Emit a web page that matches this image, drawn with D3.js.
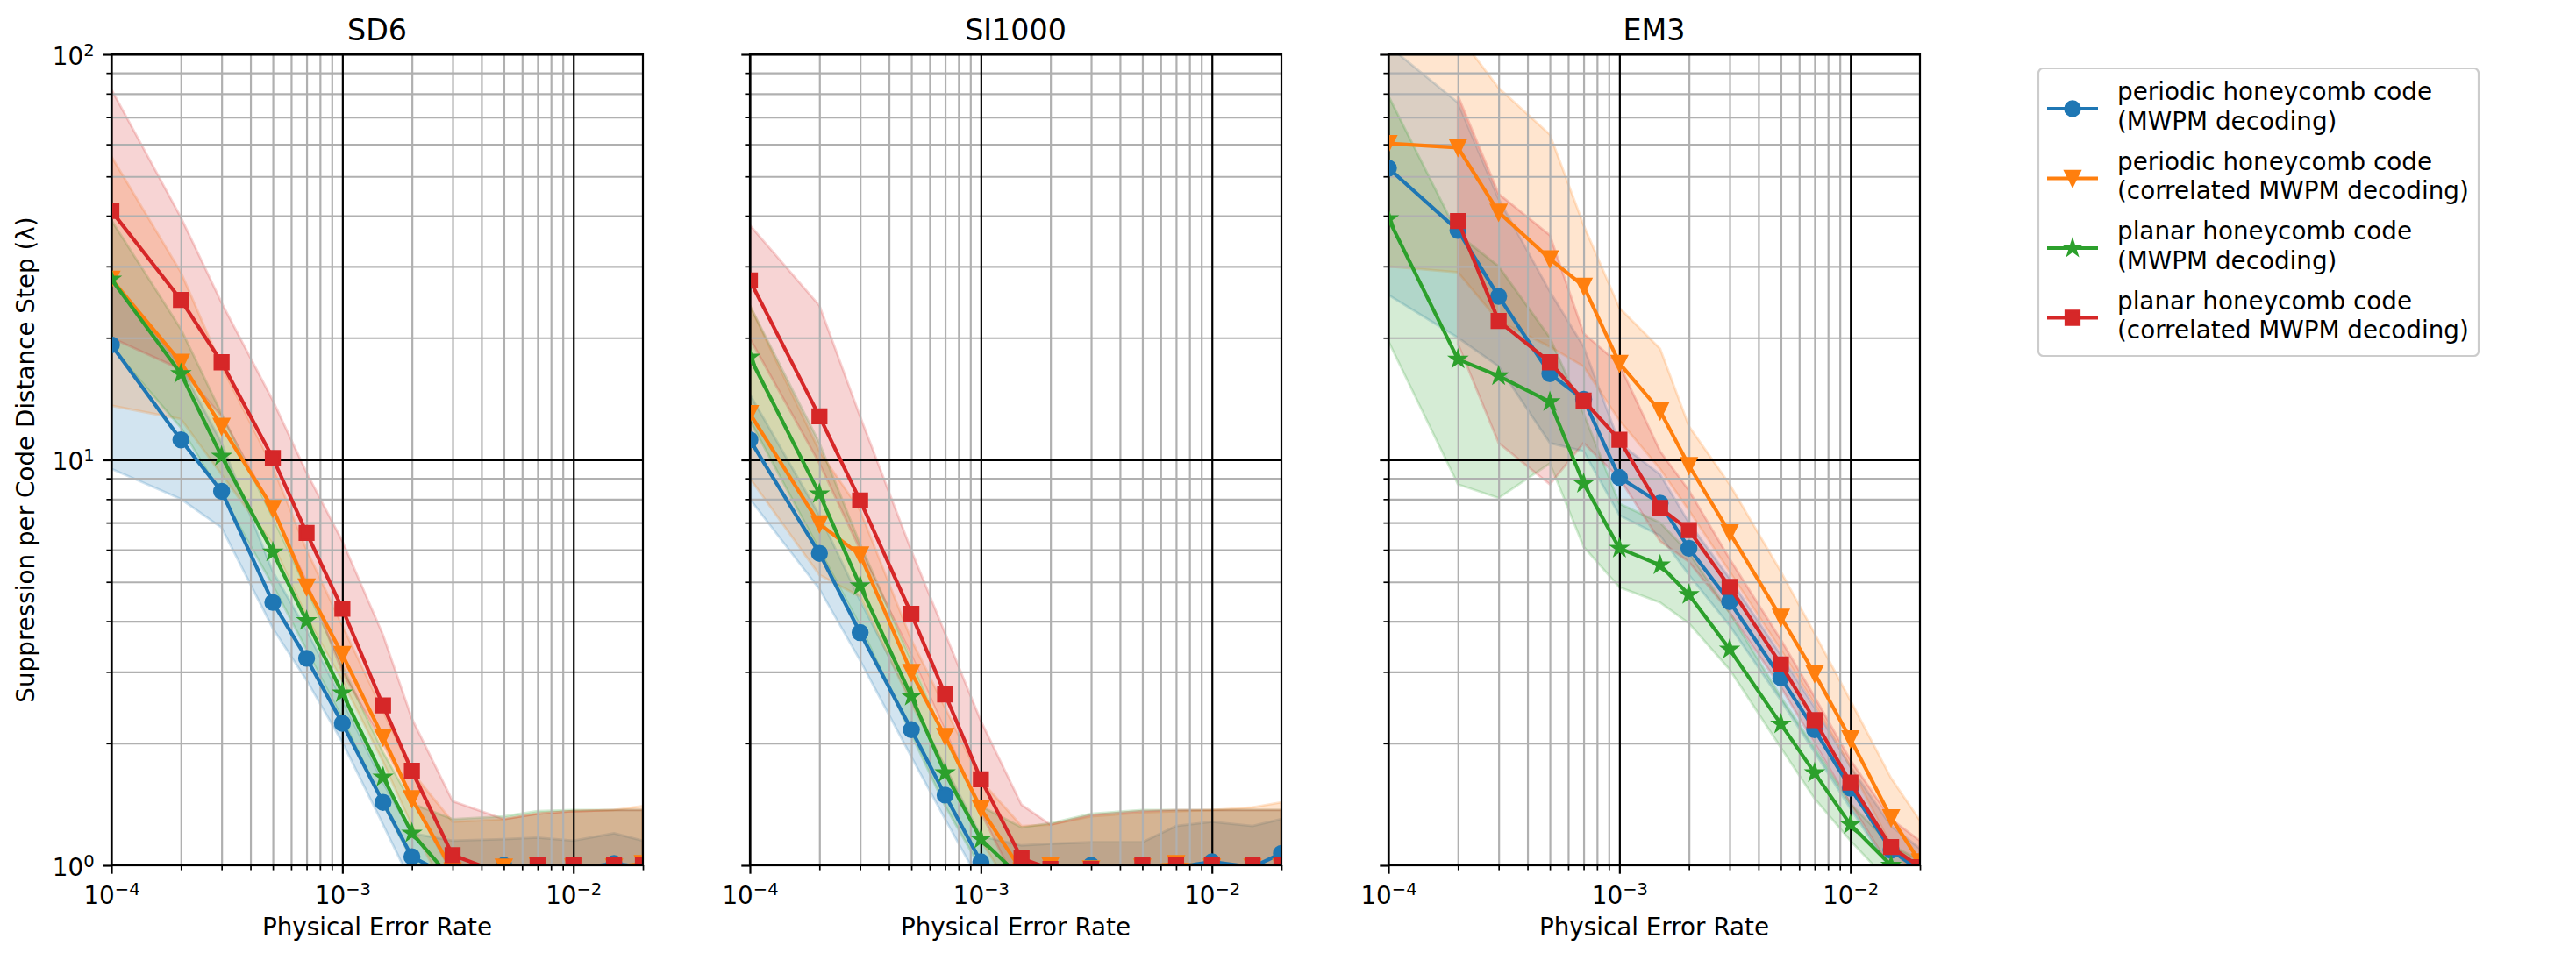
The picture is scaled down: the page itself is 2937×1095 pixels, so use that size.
<!DOCTYPE html>
<html>
<head>
<meta charset="utf-8">
<script src="https://cdn.jsdelivr.net/npm/d3@7"></script>
<style>
  body { margin: 0; background: #fff; }
  text { font-family: "DejaVu Sans", sans-serif; fill: #000; }
</style>
</head>
<body>
<svg id="chart" width="2937" height="1095"></svg>
<script>
// physical error rates, same for every panel
var rates = [1e-4, 2e-4, 3e-4, 5e-4, 7e-4, 1e-3, 1.5e-3, 2e-3, 3e-3, 5e-3, 7e-3, 1e-2, 1.5e-2, 2e-2];

var panelNames = ["SD6", "SI1000", "EM3"];
var seriesNames = [
  ["periodic honeycomb code", "(MWPM decoding)"],
  ["periodic honeycomb code", "(correlated MWPM decoding)"],
  ["planar honeycomb code", "(MWPM decoding)"],
  ["planar honeycomb code", "(correlated MWPM decoding)"]
];
var xMajorTicks = [1e-4, 1e-3, 1e-2];
var xTickExp = ["\u22124", "\u22123", "\u22122"];
var yMajorTicks = [1, 10, 100];
var yTickExp = ["0", "1", "2"];

// SD6
var sd6PerMwpm   = [19.2, 11.2, 8.36, 4.45, 3.24, 2.24, 1.43, 1.05, 0.93, 1.0, 0.98, 0.98, 1.01, 0.99];
var sd6PerMwpmLo = [9.5, 8.0, 6.8, 3.84, 2.86, 2.01, 1.26, 0.9, 0.8, 0.75, 0.75, 0.75, 0.75, 0.75];
var sd6PerMwpmHi = [28, 17, 11, 5.3, 3.8, 2.55, 1.6, 1.2, 1.15, 1.16, 1.17, 1.15, 1.2, 1.15];
var sd6PerCorr   = [27.9, 17.4, 12.1, 7.59, 4.86, 3.31, 2.07, 1.46, 0.97, 0.99, 1.0, 0.99, 0.99, 1.01];
var sd6PerCorrLo = [13.6, 12.6, 9.2, 6.2, 4.1, 2.85, 1.8, 1.25, 0.8, 0.75, 0.75, 0.78, 0.8, 0.82];
var sd6PerCorrHi = [56, 29, 17, 9.6, 6.0, 3.9, 2.4, 1.7, 1.28, 1.3, 1.34, 1.36, 1.37, 1.4];
var sd6PlnMwpm   = [27.9, 16.3, 10.2, 5.92, 4.01, 2.66, 1.65, 1.20, 0.92, 0.9, 0.9, 0.9, 0.9, 0.9];
var sd6PlnMwpmLo = [19, 12, 8.2, 4.9, 3.4, 2.3, 1.42, 1.03, 0.78, 0.7, 0.7, 0.7, 0.7, 0.7];
var sd6PlnMwpmHi = [39, 21, 13, 7.2, 4.8, 3.1, 1.9, 1.42, 1.3, 1.32, 1.36, 1.37, 1.37, 1.37];
var sd6PlnCorr   = [41.1, 24.8, 17.4, 10.1, 6.6, 4.29, 2.48, 1.71, 1.06, 0.95, 1.0, 1.0, 1.0, 1.0];
var sd6PlnCorrLo = [20, 16.7, 12.8, 7.5, 5.0, 3.0, 2.0, 1.46, 0.95, 0.8, 0.8, 0.8, 0.8, 0.8];
var sd6PlnCorrHi = [82, 39.6, 24.4, 14.0, 9.3, 6.3, 3.7, 2.3, 1.44, 1.3, 1.34, 1.36, 1.37, 1.37];

// SI1000
var si1PerMwpm   = [11.2, 5.88, 3.75, 2.16, 1.49, 1.02, 0.93, 0.99, 1.0, 0.99, 0.99, 1.02, 0.99, 1.07];
var si1PerMwpmLo = [8.0, 4.8, 3.2, 1.85, 1.3, 0.9, 0.75, 0.75, 0.75, 0.75, 0.75, 0.75, 0.75, 0.75];
var si1PerMwpmHi = [14.5, 7.3, 4.5, 2.55, 1.75, 1.18, 1.12, 1.13, 1.14, 1.14, 1.25, 1.28, 1.25, 1.3];
var si1PerCorr   = [13.0, 6.95, 5.83, 2.99, 2.08, 1.38, 0.97, 1.0, 0.98, 0.99, 1.01, 0.99, 0.99, 0.99];
var si1PerCorrLo = [9.0, 5.2, 4.6, 2.5, 1.75, 1.15, 0.8, 0.78, 0.78, 0.78, 0.8, 0.8, 0.8, 0.8];
var si1PerCorrHi = [24, 10.5, 7.5, 3.6, 2.45, 1.62, 1.25, 1.26, 1.32, 1.35, 1.36, 1.37, 1.39, 1.43];
var si1PlnMwpm   = [17.9, 8.24, 4.89, 2.61, 1.69, 1.16, 0.93, 0.9, 0.9, 0.9, 0.9, 0.9, 0.9, 0.9];
var si1PlnMwpmLo = [12.5, 6.0, 3.9, 2.1, 1.4, 0.98, 0.75, 0.7, 0.7, 0.7, 0.7, 0.7, 0.7, 0.7];
var si1PlnMwpmHi = [24, 11, 6.2, 3.2, 2.05, 1.4, 1.24, 1.27, 1.34, 1.37, 1.37, 1.37, 1.37, 1.37];
var si1PlnCorr   = [27.7, 12.8, 7.94, 4.17, 2.64, 1.63, 1.04, 0.98, 0.98, 1.0, 1.0, 1.0, 1.0, 1.0];
var si1PlnCorrLo = [19.9, 9.8, 6.0, 3.3, 2.15, 1.35, 0.85, 0.8, 0.8, 0.8, 0.8, 0.8, 0.8, 0.8];
var si1PlnCorrHi = [37.9, 24, 12.8, 5.97, 3.73, 2.27, 1.41, 1.26, 1.33, 1.36, 1.37, 1.37, 1.37, 1.37];

// EM3
var em3PerMwpm   = [52.4, 36.8, 25.3, 16.3, 14.1, 9.05, 7.82, 6.05, 4.47, 2.90, 2.16, 1.55, 1.09, 0.97];
var em3PerMwpmLo = [25.5, 20, 17, 11, 10.5, 7.3, 6.5, 5.2, 3.9, 2.55, 1.9, 1.38, 0.97, 0.85];
var em3PerMwpmHi = [105, 76, 44, 26, 19, 11, 9.2, 7.0, 5.1, 3.3, 2.45, 1.75, 1.25, 1.1];
var em3PerCorr   = [60.3, 58.9, 40.8, 31.3, 26.8, 17.3, 13.2, 9.68, 6.61, 4.09, 2.97, 2.05, 1.31, 1.02];
var em3PerCorrLo = [30, 29, 22, 19, 17, 12.5, 9.5, 7.5, 5.3, 3.4, 2.5, 1.75, 1.12, 0.9];
var em3PerCorrHi = [115, 112, 82.6, 63.4, 37.9, 23.7, 18.8, 12.1, 8.7, 5.3, 3.73, 2.55, 1.64, 1.29];
var em3PlnMwpm   = [39.3, 17.7, 16.1, 13.9, 8.74, 6.05, 5.50, 4.65, 3.41, 2.23, 1.69, 1.26, 1.0, 0.92];
var em3PlnMwpmLo = [19.6, 8.7, 8.05, 9.8, 6.1, 4.85, 4.45, 3.95, 3.04, 1.95, 1.46, 1.15, 0.9, 0.8];
var em3PlnMwpmHi = [79, 36, 30, 20, 13, 7.8, 7.0, 5.9, 4.2, 2.6, 1.95, 1.42, 1.12, 1.03];
var em3PlnCorr   = [null, 38.8, 22.0, 17.4, 14.0, 11.2, 7.61, 6.71, 4.86, 3.13, 2.28, 1.60, 1.11, 0.99];
var em3PlnCorrLo = [null, 19.3, 11.0, 8.7, 11.0, 9.0, 6.3, 5.6, 4.2, 2.75, 2.0, 1.42, 0.98, 0.88];
var em3PlnCorrHi = [null, 79, 45.3, 35.8, 20.5, 17.2, 10.5, 8.4, 5.7, 3.6, 2.6, 1.82, 1.3, 1.15];

var panels = [
  {vals: [sd6PerMwpm, sd6PerCorr, sd6PlnMwpm, sd6PlnCorr],
   lo: [sd6PerMwpmLo, sd6PerCorrLo, sd6PlnMwpmLo, sd6PlnCorrLo],
   hi: [sd6PerMwpmHi, sd6PerCorrHi, sd6PlnMwpmHi, sd6PlnCorrHi]},
  {vals: [si1PerMwpm, si1PerCorr, si1PlnMwpm, si1PlnCorr],
   lo: [si1PerMwpmLo, si1PerCorrLo, si1PlnMwpmLo, si1PlnCorrLo],
   hi: [si1PerMwpmHi, si1PerCorrHi, si1PlnMwpmHi, si1PlnCorrHi]},
  {vals: [em3PerMwpm, em3PerCorr, em3PlnMwpm, em3PlnCorr],
   lo: [em3PerMwpmLo, em3PerCorrLo, em3PlnMwpmLo, em3PlnCorrLo],
   hi: [em3PerMwpmHi, em3PerCorrHi, em3PlnMwpmHi, em3PlnCorrHi]}
];

var colors = ["#1f77b4", "#ff7f0e", "#2ca02c", "#d62728"];
var shapes = ["circle", "tri", "star", "square"];

var svg = d3.select("#chart");
var panelLeft = [127, 855, 1583], panelTop = 62;
var pw = 606, ph = 925;
var fs = 27.8, supFs = 19.5;

var x = d3.scaleLog().domain([1e-4, 2e-2]).range([0, pw]);
var y = d3.scaleLog().domain([1, 100]).range([ph, 0]);

var xMinor = x.ticks().filter(function (t) { return xMajorTicks.indexOf(t) < 0; });
var yMinor = y.ticks().filter(function (t) { return yMajorTicks.indexOf(t) < 0; });

function markerPath(shape) {
  if (shape == "tri") return "M0,8.33L-8.33,-8.33L8.33,-8.33Z";
  if (shape == "circle") return d3.symbol(d3.symbolCircle, 218)();
  if (shape == "star") return d3.symbol(d3.symbolStar, 80)();
  return d3.symbol(d3.symbolSquare, 240)();
}

// writes "10" with a raised exponent
function powerLabel(sel, exps) {
  sel.each(function (d, i) {
    var t = d3.select(this).text(null);
    t.append("tspan").text("10");
    t.append("tspan").attr("dy", -10).style("font-size", supFs + "px").text(exps[i]);
  });
}

function styleAxis(g, width) {
  g.select(".domain").remove();
  g.selectAll("line").attr("stroke", "#000").attr("stroke-width", width);
}

svg.append("defs").append("clipPath").attr("id", "plotClip")
  .append("rect").attr("width", pw).attr("height", ph);

panels.forEach(function (p, pi) {
  var g = svg.append("g").attr("transform", "translate(" + panelLeft[pi] + "," + panelTop + ")");
  var plot = g.append("g").attr("clip-path", "url(#plotClip)");

  // confidence bands
  p.vals.forEach(function (vals, si) {
    var area = d3.area()
      .defined(function (i) { return vals[i] != null; })
      .x(function (i) { return x(rates[i]); })
      .y0(function (i) { return y(p.lo[si][i]); })
      .y1(function (i) { return y(p.hi[si][i]); });
    plot.append("path")
      .attr("d", area(d3.range(rates.length)))
      .attr("fill", colors[si]).attr("fill-opacity", 0.2)
      .attr("stroke", colors[si]).attr("stroke-opacity", 0.2).attr("stroke-width", 2.78);
  });

  // grid
  var gx = plot.append("g").attr("transform", "translate(0," + ph + ")")
    .call(d3.axisBottom(x).tickValues(xMinor).tickSize(-ph).tickFormat(""));
  gx.select(".domain").remove();
  gx.selectAll("line").attr("stroke", "#b0b0b0").attr("stroke-width", 2.2);
  var gy = plot.append("g")
    .call(d3.axisLeft(y).tickValues(yMinor).tickSize(-pw).tickFormat(""));
  gy.select(".domain").remove();
  gy.selectAll("line").attr("stroke", "#b0b0b0").attr("stroke-width", 2.2);
  var gxM = plot.append("g").attr("transform", "translate(0," + ph + ")")
    .call(d3.axisBottom(x).tickValues(xMajorTicks).tickSize(-ph).tickFormat(""));
  gxM.select(".domain").remove();
  gxM.selectAll("line").attr("stroke", "#000").attr("stroke-width", 2.2);
  var gyM = plot.append("g")
    .call(d3.axisLeft(y).tickValues(yMajorTicks).tickSize(-pw).tickFormat(""));
  gyM.select(".domain").remove();
  gyM.selectAll("line").attr("stroke", "#000").attr("stroke-width", 2.2);

  // lines and markers
  p.vals.forEach(function (vals, si) {
    var pts = rates.map(function (r, i) { return [r, vals[i]]; })
      .filter(function (d) { return d[1] != null; });
    var line = d3.line()
      .x(function (d) { return x(d[0]); })
      .y(function (d) { return y(d[1]); });
    var s = plot.append("g");
    s.append("path").attr("d", line(pts))
      .attr("fill", "none").attr("stroke", colors[si]).attr("stroke-width", 4.17)
      .attr("stroke-linejoin", "round").attr("stroke-linecap", "square");
    s.selectAll(".mk").data(pts).enter().append("path")
      .attr("class", "mk")
      .attr("d", markerPath(shapes[si]))
      .attr("transform", function (d) { return "translate(" + x(d[0]) + "," + y(d[1]) + ")"; })
      .attr("fill", colors[si]).attr("stroke", colors[si]).attr("stroke-width", 2.78)
      .attr("stroke-linejoin", "miter");
  });

  // spines
  g.append("rect").attr("width", pw).attr("height", ph)
    .attr("fill", "none").attr("stroke", "#000").attr("stroke-width", 2.2);

  // x ticks
  var xa = g.append("g").attr("transform", "translate(0," + ph + ")")
    .call(d3.axisBottom(x).tickValues(xMajorTicks).tickSize(9.7).tickPadding(9.7));
  styleAxis(xa, 2.2);
  xa.selectAll("text").attr("y", 43.5).attr("dy", null)
    .style("font-size", fs + "px").attr("fill", "#000");
  powerLabel(xa.selectAll("text"), xTickExp);
  var xm = g.append("g").attr("transform", "translate(0," + ph + ")")
    .call(d3.axisBottom(x).tickValues(xMinor).tickSize(5.6).tickFormat(""));
  styleAxis(xm, 1.7);

  // y ticks
  var ya = g.append("g")
    .call(d3.axisLeft(y).tickValues(yMajorTicks).tickSize(9.7).tickPadding(9.7));
  styleAxis(ya, 2.2);
  if (pi == 0) {
    ya.selectAll("text").attr("dy", null).attr("y", 11)
      .style("font-size", fs + "px").attr("fill", "#000");
    powerLabel(ya.selectAll("text"), yTickExp);
  } else {
    ya.selectAll("text").remove();
  }
  var ym = g.append("g")
    .call(d3.axisLeft(y).tickValues(yMinor).tickSize(5.6).tickFormat(""));
  styleAxis(ym, 1.7);

  // titles and labels
  g.append("text").attr("x", pw / 2).attr("y", -16)
    .attr("text-anchor", "middle").style("font-size", "33.3px")
    .text(panelNames[pi]);
  g.append("text").attr("x", pw / 2).attr("y", 1067 - panelTop)
    .attr("text-anchor", "middle").style("font-size", fs + "px")
    .text("Physical Error Rate");
});

svg.append("text")
  .attr("transform", "translate(39," + (panelTop + ph / 2) + ") rotate(-90)")
  .attr("text-anchor", "middle").style("font-size", fs + "px")
  .text("Suppression per Code Distance Step (\u03bb)");

// legend
var legend = svg.append("g").attr("transform", "translate(2324,78)");
legend.append("rect").attr("width", 502).attr("height", 328).attr("rx", 5.5)
  .attr("fill", "#fff").attr("fill-opacity", 0.8)
  .attr("stroke", "#cccccc").attr("stroke-width", 2.2);
seriesNames.forEach(function (name, si) {
  var cy = 46 + si * 79.5;
  legend.append("line").attr("x1", 10).attr("x2", 68).attr("y1", cy).attr("y2", cy)
    .attr("stroke", colors[si]).attr("stroke-width", 4.17);
  legend.append("path").attr("d", markerPath(shapes[si]))
    .attr("transform", "translate(39," + cy + ")")
    .attr("fill", colors[si]).attr("stroke", colors[si]).attr("stroke-width", 2.78);
  legend.append("text").attr("x", 90).attr("y", cy - 10)
    .style("font-size", fs + "px").text(name[0]);
  legend.append("text").attr("x", 90).attr("y", cy + 23.5)
    .style("font-size", fs + "px").text(name[1]);
});
</script>
</body>
</html>
